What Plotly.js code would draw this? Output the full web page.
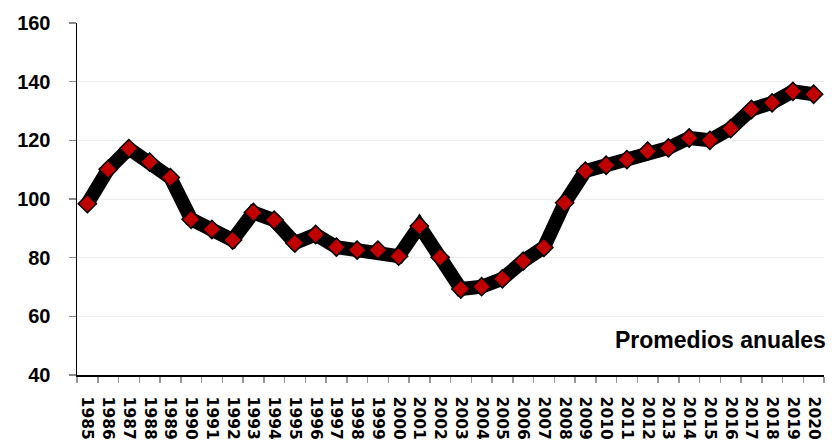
<!DOCTYPE html>
<html>
<head>
<meta charset="utf-8">
<script src="https://cdn.plot.ly/plotly-3.0.1.min.js"></script>
<style>html,body{margin:0;padding:0;background:#fff;}#chart{width:832px;height:441px;}</style>
</head>
<body>
<div id="chart"></div>
<script>
var years = ["1985","1986","1987","1988","1989","1990","1991","1992","1993","1994","1995","1996","1997","1998","1999","2000","2001","2002","2003","2004","2005","2006","2007","2008","2009","2010","2011","2012","2013","2014","2015","2016","2017","2018","2019","2020"];
var values = [98.4,110.1,117.2,112.6,107.3,93.1,89.6,86.0,95.4,92.8,85.0,87.9,83.6,82.6,82.6,80.5,90.8,80.1,69.3,70.1,72.8,78.8,83.5,98.7,109.5,111.5,113.4,116.3,117.4,120.8,120.0,124.0,130.5,132.8,136.7,135.7];
var yTicks = [40,60,80,100,120,140,160];
var noteText = "Promedios anuales";

var font = "Liberation Sans, Arial, sans-serif";
var trace = {
  x: years, y: values, type: "scatter", mode: "lines+markers",
  line: {color: "#000000", width: 14},
  marker: {symbol: "diamond", size: 14, color: "#c00000", line: {color: "#000000", width: 1.5}},
  hoverinfo: "skip"
};
var layout = {
  width: 832, height: 441,
  margin: {l: 77, r: 7.5, t: 22.5, b: 66},
  paper_bgcolor: "#ffffff", plot_bgcolor: "#ffffff",
  showlegend: false,
  xaxis: {
    type: "category", tickson: "boundaries", ticks: "outside", ticklen: 6, tickcolor: "#999999", tickwidth: 1.5,
    tickangle: 90, tickfont: {family: "DejaVu Sans, sans-serif", size: 15.5, color: "#000", weight: "bold"},
    showline: true, linecolor: "#000000", linewidth: 1.5, showgrid: false, zeroline: false,
    ticklabelstandoff: 17, range: [-0.5, 35.5], fixedrange: true
  },
  yaxis: {
    range: [40, 160], tickvals: yTicks, ticktext: yTicks.map(String),
    ticks: "outside", ticklen: 7, tickcolor: "#888888", tickwidth: 1.5,
    tickfont: {family: font, size: 20, color: "#000", weight: "bold"},
    showline: true, linecolor: "#000000", linewidth: 1.5,
    showgrid: true, gridcolor: "#ececec", gridwidth: 1, zeroline: false,
    ticklabelstandoff: 14, fixedrange: true
  },
  annotations: [{
    text: "<b>" + noteText + "</b>", xref: "paper", yref: "paper", x: 1.006, y: 0.1,
    xanchor: "right", yanchor: "middle", showarrow: false,
    font: {family: font, size: 23, color: "#000"}
  }]
};
Plotly.newPlot("chart", [trace], layout, {staticPlot: true, displayModeBar: false});
</script>
</body>
</html>
